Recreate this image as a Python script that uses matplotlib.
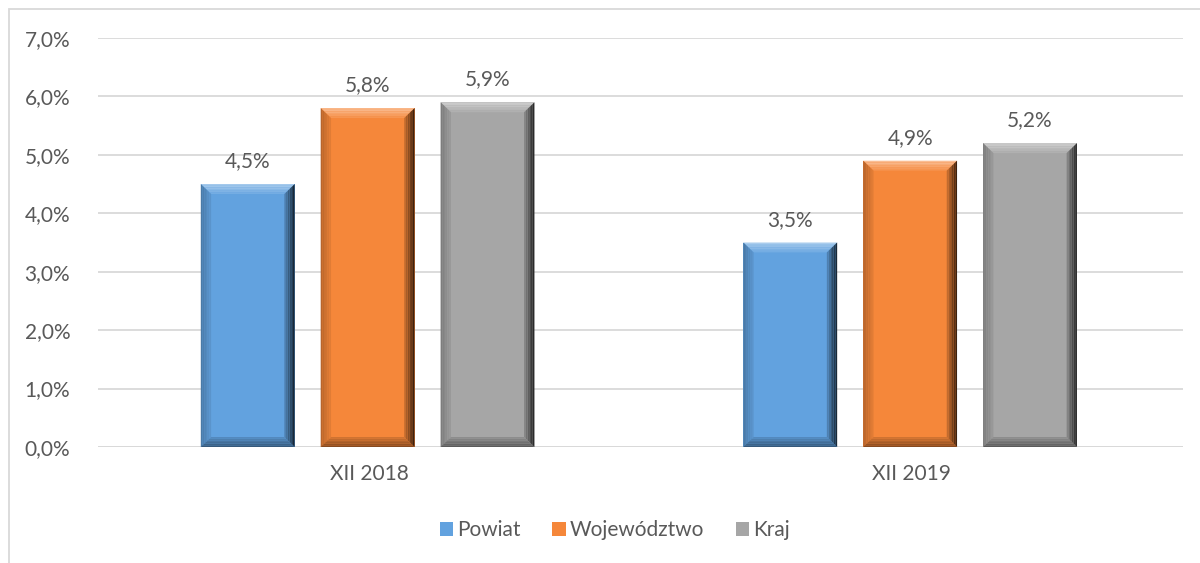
import matplotlib.pyplot as plt
import matplotlib.colors as mcolors
from matplotlib.patches import Polygon, Rectangle
import numpy as np

plt.rcParams['font.family'] = ['Lato', 'DejaVu Sans']

categories = ["XII 2018", "XII 2019"]
series = ["Powiat", "Województwo", "Kraj"]
powiat = [4.5, 3.5]
wojewodztwo = [5.8, 4.9]
kraj = [5.9, 5.2]
values = [powiat, wojewodztwo, kraj]
colors = ["#62A2DF", "#F5873A", "#A6A6A6"]
text_col = "#595959"

fig = plt.figure(figsize=(12, 5.63), dpi=100)
ax = fig.add_axes([98 / 1200, 1 - 447 / 563, (1183 - 98) / 1200, (447 - 38) / 563])

x = np.arange(len(categories))
width = 0.173
step = 0.221


def shade(c, f):
    r, g, b = mcolors.to_rgb(c)
    if f < 1:
        return (r * f, g * f, b * f)
    f = f - 1
    return (r + (1 - r) * f, g + (1 - g) * f, b + (1 - b) * f)


dx = 0.019   # bevel depth in x (data units)
dy = 0.17    # bevel depth in y (data units)

for i, (name, vals, col) in enumerate(zip(series, values, colors)):
    bars = ax.bar(x + (i - 1) * step - 0.003, vals, width, color=col, label=name, zorder=2)
    for b, v in zip(bars, vals):
        x0, x1 = b.get_x(), b.get_x() + b.get_width()
        y0, y1 = 0, b.get_height()
        n = 6
        for k in range(n):
            f0 = (k + 1) / n
            f1 = k / n
            # top bevel (light gradient)
            ax.add_patch(Polygon([(x0 + dx * f1, y1 - dy * f1), (x1 - dx * f1, y1 - dy * f1),
                                  (x1 - dx * f0, y1 - dy * f0), (x0 + dx * f0, y1 - dy * f0)],
                                 color=shade(col, 1.45 - 0.4 * k / n), lw=0, zorder=3))
            # left bevel
            ax.add_patch(Polygon([(x0 + dx * f1, y1 - dy * f1), (x0 + dx * f0, y1 - dy * f0),
                                  (x0 + dx * f0, y0 + dy * f0), (x0 + dx * f1, y0 + dy * f1)],
                                 color=shade(col, 0.75 + 0.2 * k / n), lw=0, zorder=3))
            # right bevel, darker gradient
            ax.add_patch(Polygon([(x1 - dx * f1, y1 - dy * f1), (x1 - dx * f0, y1 - dy * f0),
                                  (x1 - dx * f0, y0 + dy * f0), (x1 - dx * f1, y0 + dy * f1)],
                                 color=shade(col, 0.25 + 0.65 * k / n), lw=0, zorder=3))
            # bottom bevel
            ax.add_patch(Polygon([(x0 + dx * f1, y0 + dy * f1), (x0 + dx * f0, y0 + dy * f0),
                                  (x1 - dx * f0, y0 + dy * f0), (x1 - dx * f1, y0 + dy * f1)],
                                 color=shade(col, 0.55 + 0.35 * k / n), lw=0, zorder=3))
        ax.text(b.get_x() + b.get_width() / 2, v + 0.22, f"{v:.1f}%".replace(".", ","),
                ha="center", va="bottom", fontsize=15, color=text_col)

ax.set_xlim(-0.5, 1.5)
ax.set_ylim(0, 7)
ax.set_yticks(np.arange(0, 8, 1))
ax.set_yticklabels([f"{t:.1f}%".replace(".", ",") for t in range(8)])
ax.set_xticks(x)
ax.set_xticklabels(categories)
ax.tick_params(axis="both", length=0, labelsize=15, labelcolor=text_col)
ax.tick_params(axis="y", pad=20)
ax.tick_params(axis="x", pad=12)
ax.grid(axis="y", color="#D9D9D9", lw=1.3, zorder=0)
for s in ax.spines.values():
    s.set_visible(False)
ax.axhline(0, color="#D9D9D9", lw=1.3, zorder=1)

leg = ax.legend(loc="center", bbox_to_anchor=(615 / 1200, 1 - 530 / 563),
                bbox_transform=fig.transFigure, ncol=3, frameon=False,
                fontsize=15, handlelength=0.65, handleheight=0.65,
                handletextpad=0.2, columnspacing=1.5)
for t in leg.get_texts():
    t.set_color(text_col)

fig.patches.append(Rectangle((9 / 1200, -0.1), 1.2, 1 - 9 / 563 + 0.1,
                             transform=fig.transFigure, fill=False,
                             edgecolor="#D9D9D9", lw=1.3))

fig.savefig("out.png", dpi=100)
